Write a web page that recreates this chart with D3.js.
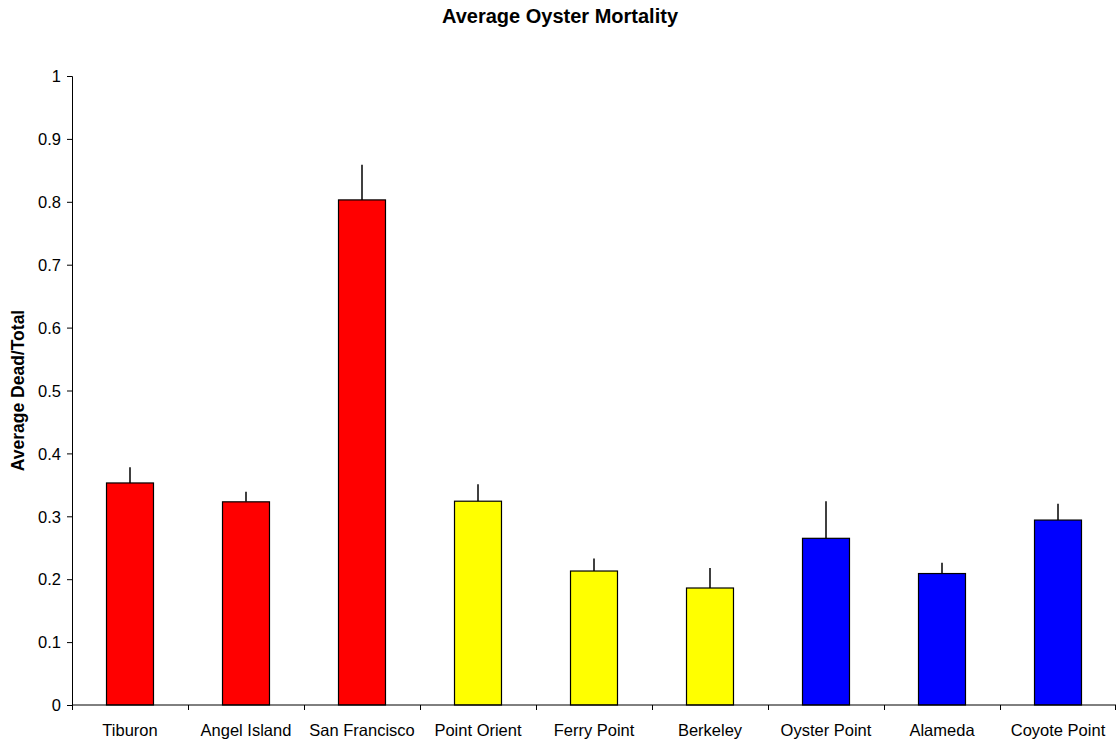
<!DOCTYPE html>
<html>
<head>
<meta charset="utf-8">
<script src="https://cdn.jsdelivr.net/npm/d3@7"></script>
<style>
  body { margin: 0; background: #fff; }
  svg { display: block; font-family: "Liberation Sans", Arial, sans-serif; }
</style>
</head>
<body>
<svg id="chart" width="1116" height="742"></svg>
<script>
// Sampling sites around the bay
const sites = ["Tiburon", "Angel Island", "San Francisco", "Point Orient", "Ferry Point",
               "Berkeley", "Oyster Point", "Alameda", "Coyote Point"];
// Mean proportion dead per site
const meanMortality = [0.353, 0.323, 0.803, 0.324, 0.213, 0.186, 0.265, 0.209, 0.294];
// Standard error (upper bar only)
const stdError = [0.025, 0.016, 0.056, 0.027, 0.020, 0.032, 0.059, 0.017, 0.026];
// Region colour for each site
const siteColors = ["#ff0000", "#ff0000", "#ff0000", "#ffff00", "#ffff00",
                    "#ffff00", "#0000ff", "#0000ff", "#0000ff"];
const yTicks = [0, 0.1, 0.2, 0.3, 0.4, 0.5, 0.6, 0.7, 0.8, 0.9, 1];

const svg = d3.select("#chart");
const margin = { left: 72, right: 0, top: 76, bottom: 37 };
const W = 1116, H = 742;

const x = d3.scaleBand().domain(sites).range([margin.left, W - margin.right]).paddingInner(0.595).paddingOuter(0.2975);
const xTicks = d3.scaleBand().domain(sites).range([margin.left, W - margin.right]);
const y = d3.scaleLinear().domain([0, 1]).range([H - margin.bottom, margin.top]);

// Title
svg.append("text")
  .attr("x", 560).attr("y", 23)
  .attr("text-anchor", "middle")
  .style("font-size", "20px").style("font-weight", "bold")
  .text("Average Oyster Mortality");

// Y axis title
svg.append("text")
  .attr("transform", `translate(24,${(y(0) + y(1)) / 2}) rotate(-90)`)
  .attr("text-anchor", "middle")
  .style("font-size", "17.5px").style("font-weight", "bold")
  .text("Average Dead/Total");

// Error bars (drawn under the bars)
svg.append("g").selectAll("line")
  .data(sites)
  .join("line")
  .attr("x1", d => x(d) + x.bandwidth() / 2)
  .attr("x2", d => x(d) + x.bandwidth() / 2)
  .attr("y1", (d, i) => y(meanMortality[i]))
  .attr("y2", (d, i) => y(meanMortality[i] + stdError[i]))
  .attr("stroke", "#000").attr("stroke-width", 1.5);

// Bars
svg.append("g").selectAll("rect")
  .data(sites)
  .join("rect")
  .attr("x", d => x(d))
  .attr("width", x.bandwidth())
  .attr("y", (d, i) => y(meanMortality[i]))
  .attr("height", (d, i) => y(0) - y(meanMortality[i]))
  .attr("fill", (d, i) => siteColors[i])
  .attr("stroke", "#000").attr("stroke-width", 1.2);

// Y axis
const yAxis = svg.append("g")
  .attr("transform", `translate(${margin.left},0)`)
  .call(d3.axisLeft(y).tickValues(yTicks).tickFormat(d3.format("~g")).tickSize(5).tickPadding(6));
yAxis.selectAll("text").style("font-size", "16.5px").attr("fill", "#000").attr("dy", "0.35em");
yAxis.select(".domain").attr("stroke", "#000");

// X axis with ticks at category boundaries
const xAxis = svg.append("g")
  .attr("transform", `translate(0,${y(0)})`);
xAxis.append("line")
  .attr("x1", margin.left).attr("x2", W)
  .attr("stroke", "#000");
xAxis.selectAll("line.tick")
  .data(sites.concat(["__end"]))
  .join("line")
  .attr("class", "tick")
  .attr("x1", (d, i) => i < sites.length ? xTicks(d) + 0.5 : W - 0.5)
  .attr("x2", (d, i) => i < sites.length ? xTicks(d) + 0.5 : W - 0.5)
  .attr("y1", 0).attr("y2", 5)
  .attr("stroke", "#000");
xAxis.selectAll("text")
  .data(sites)
  .join("text")
  .attr("x", d => xTicks(d) + xTicks.bandwidth() / 2)
  .attr("y", 31)
  .attr("text-anchor", "middle")
  .style("font-size", "16.5px")
  .text(d => d);
</script>
</body>
</html>
